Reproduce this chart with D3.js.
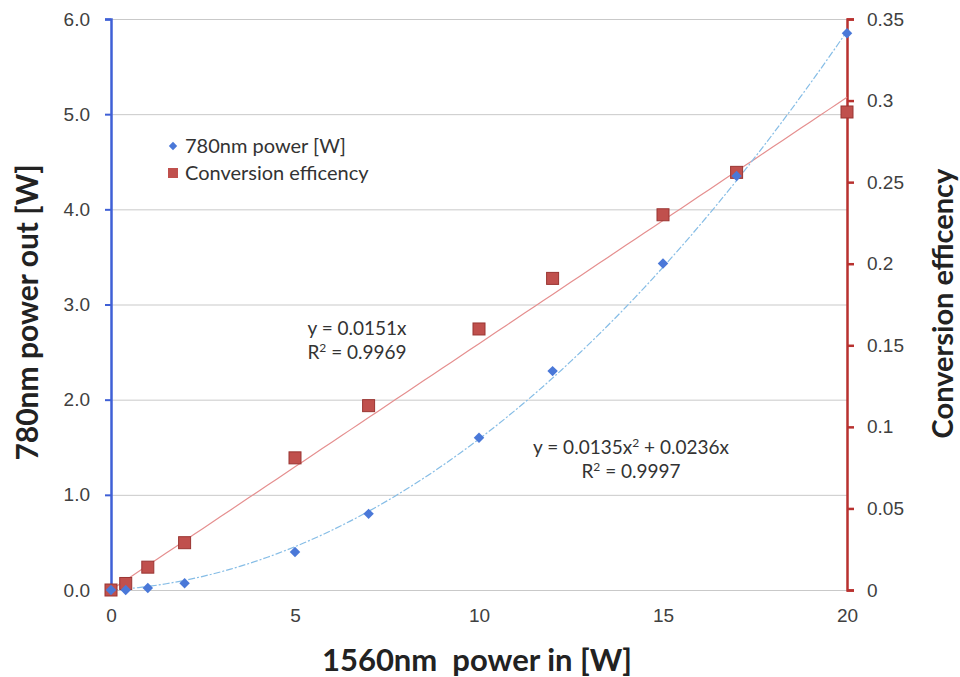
<!DOCTYPE html>
<html lang="en">
<head>
<meta charset="UTF-8">
<title>780nm power and conversion efficiency</title>
<script src="https://cdn.jsdelivr.net/npm/d3@7"></script>
<style>
    body { margin: 0; background: #fff; }
    svg { display: block; font-family: Lato, "Open Sans", sans-serif; }
    .tick text { fill: #404040; font-size: 19px; }
    .title { font-weight: 700; fill: #222; }
    .note { fill: #333; font-size: 19px; }
</style>
</head>
<body>
<div id="chart"></div>
<script>
"use strict";

// input power 1560nm [W]
var pumpIn = [0, 0.4, 1, 2, 5, 7, 10, 12, 15, 17, 20];
// 780nm power out [W]
var shgOut = [0, 0.0, 0.02, 0.07, 0.40, 0.80, 1.60, 2.30, 3.43, 4.35, 5.85];
// conversion efficiency
var efficiency = [0, 0.004, 0.014, 0.029, 0.081, 0.113, 0.160, 0.191, 0.230, 0.256, 0.293];

var xTicks = [0, 5, 10, 15, 20];
var leftTicks = [0, 1, 2, 3, 4, 5, 6];
var rightTicks = [0, 0.05, 0.1, 0.15, 0.2, 0.25, 0.3, 0.35];
var rightTickLabels = ["0", "0.05", "0.1", "0.15", "0.2", "0.25", "0.3", "0.35"];

// trendline coefficients as printed on the chart
var quadFit = [0.0135, 0.0236];
var linFit = 0.0151;

var width = 960, height = 677;
var margin = { top: 19, right: 113, bottom: 87, left: 111 };

var svg = d3.select('#chart').append('svg')
    .attr('width', width)
    .attr('height', height);

var x = d3.scaleLinear().domain([0, 20]).range([margin.left, width - margin.right]);
var yL = d3.scaleLinear().domain([0, 6]).range([height - margin.bottom, margin.top]);
var yR = d3.scaleLinear().domain([0, 0.35]).range([height - margin.bottom, margin.top]);

// gridlines
svg.append('g')
    .selectAll('line')
    .data(leftTicks)
    .enter()
    .append('line')
    .attr('x1', x(0))
    .attr('x2', x(20))
    .attr('y1', function(d) { return yL(d) + 0.5; })
    .attr('y2', function(d) { return yL(d) + 0.5; })
    .attr('stroke', '#c9c9c9')
    .attr('stroke-width', 1);

// bottom axis (labels only)
var xAxis = svg.append('g')
    .attr('transform', 'translate(0,' + (height - margin.bottom) + ')')
    .call(d3.axisBottom(x).tickValues(xTicks).tickFormat(d3.format('d')).tickSize(0).tickPadding(19));
xAxis.select('.domain').remove();

// left axis
var leftAxis = svg.append('g')
    .attr('transform', 'translate(' + x(0) + ',0)')
    .call(d3.axisLeft(yL).tickValues(leftTicks).tickFormat(d3.format('.1f')).tickSize(6).tickSizeOuter(6).tickPadding(15));
leftAxis.select('.domain').attr('stroke', '#3f60d6').attr('stroke-width', 2.5);
leftAxis.selectAll('.tick line').attr('stroke', '#3f60d6').attr('stroke-width', 2);

// right axis
var rightAxis = svg.append('g')
    .attr('transform', 'translate(' + x(20) + ',0)')
    .call(d3.axisRight(yR).tickValues(rightTicks)
        .tickFormat(function(d, i) { return rightTickLabels[i]; })
        .tickSize(7).tickSizeOuter(7).tickPadding(13));
rightAxis.select('.domain').attr('stroke', '#b8312f').attr('stroke-width', 2.5);
rightAxis.selectAll('.tick line').attr('stroke', '#b8312f').attr('stroke-width', 2.5);

// trendlines
var xs = d3.range(0, 20.01, 0.25);

svg.append('path')
    .datum(xs)
    .attr('fill', 'none')
    .attr('stroke', '#e58f8f')
    .attr('stroke-width', 1.2)
    .attr('d', d3.line()
        .x(function(d) { return x(d); })
        .y(function(d) { return yR(linFit * d); }));

svg.append('path')
    .datum(xs)
    .attr('fill', 'none')
    .attr('stroke', '#86bde6')
    .attr('stroke-width', 1.2)
    .attr('stroke-dasharray', '7,2,2,2')
    .attr('d', d3.line()
        .x(function(d) { return x(d); })
        .y(function(d) { return yL(quadFit[0] * d * d + quadFit[1] * d); }));

// red squares (efficiency)
svg.append('g')
    .selectAll('rect')
    .data(pumpIn)
    .enter()
    .append('rect')
    .attr('x', function(d) { return x(d) - 6; })
    .attr('y', function(d, i) { return yR(efficiency[i]) - 6; })
    .attr('width', 12)
    .attr('height', 12)
    .attr('fill', '#c0504d')
    .attr('stroke', '#9a3532')
    .attr('stroke-width', 1);

// blue diamonds (780nm power)
svg.append('g')
    .selectAll('path')
    .data(pumpIn)
    .enter()
    .append('path')
    .attr('d', d3.symbol().type(d3.symbolDiamond2).size(70))
    .attr('transform', function(d, i) {
        return 'translate(' + x(d) + ',' + yL(shgOut[i]) + ')';
    })
    .attr('fill', '#4a78d8');

// legend
var legend = svg.append('g').attr('transform', 'translate(173,146)');
legend.append('path')
    .attr('d', d3.symbol().type(d3.symbolDiamond2).size(45))
    .attr('fill', '#4a78d8');
legend.append('text')
    .attr('class', 'note')
    .attr('x', 12).attr('y', 7)
    .style('font-size', '20px')
    .text('780nm power [W]');
legend.append('rect')
    .attr('x', -5).attr('y', 22)
    .attr('width', 10).attr('height', 10)
    .attr('fill', '#c0504d');
legend.append('text')
    .attr('class', 'note')
    .attr('x', 12).attr('y', 34)
    .style('font-size', '20px')
    .text('Conversion efficency');

// equations
function eq(cx, cy, lines) {
    var t = svg.append('text')
        .attr('class', 'note')
        .attr('text-anchor', 'middle');
    lines.forEach(function(l, i) {
        var ts = t.append('tspan').attr('x', cx).attr('y', cy + i * 24);
        l.forEach(function(part) {
            var s = ts.append('tspan').text(part[0]);
            if (part[1]) s.attr('dy', -7).style('font-size', '12px');
            if (part[2]) s.attr('dy', 7);
        });
    });
}

eq(357, 335, [
    [['y = 0.0151x']],
    [['R'], ['2', true], [' = 0.9969', false, true]]
]);
eq(631, 454, [
    [['y = 0.0135x'], ['2', true], [' + 0.0236x', false, true]],
    [['R'], ['2', true], [' = 0.9997', false, true]]
]);

// axis titles
svg.append('text')
    .attr('class', 'title')
    .attr('text-anchor', 'middle')
    .attr('transform', 'translate(38,' + (yL(3) + 8) + ') rotate(-90)')
    .style('font-size', '30px')
    .text('780nm power out [W]');

svg.append('text')
    .attr('class', 'title')
    .attr('text-anchor', 'middle')
    .attr('transform', 'translate(953,' + (yL(3) - 1) + ') rotate(-90)')
    .style('font-size', '29px')
    .text('Conversion efficency');

svg.append('text')
    .attr('class', 'title')
    .attr('text-anchor', 'middle')
    .attr('x', 477)
    .attr('y', 671)
    .style('font-size', '31px')
    .text('1560nm\u00a0 power in [W]');
</script>
</body>
</html>
